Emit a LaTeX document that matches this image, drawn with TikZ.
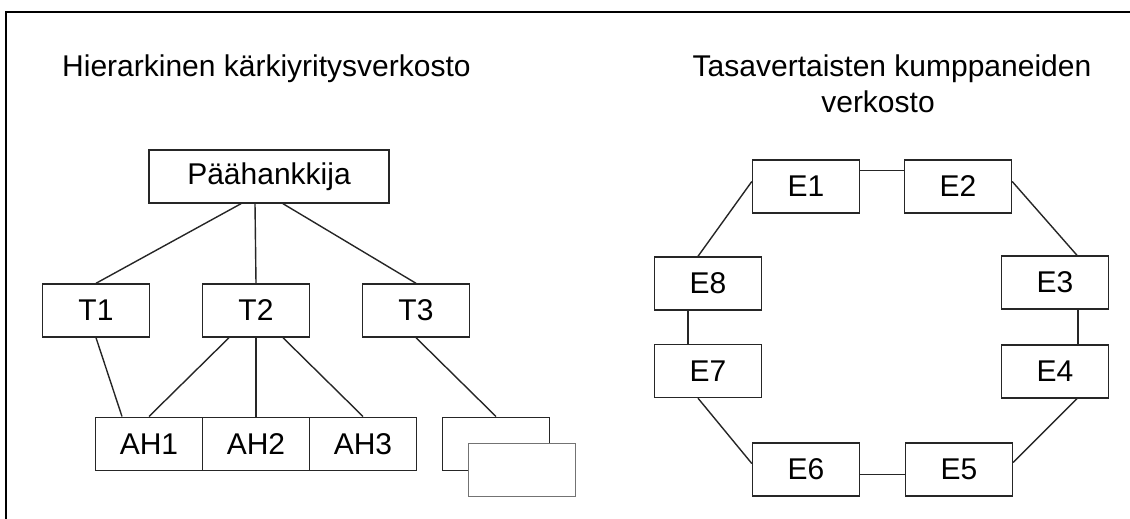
\documentclass[tikz,border=0pt]{standalone}
\usepackage{fontspec}
\setmainfont{Liberation Sans}
\usepackage{tikz}

\begin{document}
\begin{tikzpicture}[x=1pt, y=-1pt]
	\useasboundingbox (0,0) rectangle (1130,519);
	\draw[line width=1.6pt] (6,12) rectangle (1150,540);
	\fontsize{30}{36}\selectfont
	\tikzstyle{box}=[rectangle, draw=black!85, line width=1.4pt, minimum width=107pt, minimum height=53pt, inner sep=0pt, fill=white]
	\tikzstyle{link}=[draw=black!85, line width=1.4pt]
	% titles
	\node[anchor=base west, inner sep=0pt] (hier) at (62,77) {Hierarkinen kärkiyritysverkosto};
	\node[anchor=base, inner sep=0pt] (tasa) at (892,77) {Tasavertaisten kumppaneiden};
	\node[anchor=base, inner sep=0pt] (tasb) at (878,113) {verkosto};
	% hierarchy
	\node[box, minimum width=240pt] (pa) at (269,176.5) {Päähankkija};
	\foreach \i/\x in {1/96,2/256,3/416} {
	    \node[box] (t\i) at (\x,310.5) {T\i};
	}
	\foreach \i/\x in {1/149,2/256,3/363} {
	    \node[box] (ah\i) at (\x,443.7) {AH\i};
	}
	\node[box] (back) at (496,443.7) {};
	\node[box, draw=black!55] (front) at (522,470) {};
	\path ([xshift=-28pt]pa.south) edge[link] (t1.north);
	\path ([xshift=-14pt]pa.south) edge[link] (t2.north);
	\path ([xshift=14pt]pa.south) edge[link] (t3.north);
	\path (t1.south) edge[link] ([xshift=-27pt]ah1.north);
	\path ([xshift=-27pt]t2.south) edge[link] (ah1.north);
	\path (t2.south) edge[link] (ah2.north);
	\path ([xshift=27pt]t2.south) edge[link] (ah3.north);
	\path (t3.south) edge[link] (back.north);
	% ring
	\foreach \i/\x/\y in {1/806/186.5,2/958/186.5,3/1055/282.5,4/1055/371.5,5/959/469.5,6/806/469.5,7/708/371,8/708/283.5} {
	    \node[box] (e\i) at (\x,\y) {E\i};
	}
	\path ([yshift=16pt]e1.east) edge[link] ([yshift=16pt]e2.west);
	\path ([yshift=5pt]e2.east) edge[link] ([xshift=22pt]e3.north);
	\path ([xshift=23pt]e3.south) edge[link] ([xshift=23pt]e4.north);
	\path ([xshift=22pt]e4.south) edge[link] ([yshift=7pt]e5.east);
	\path ([yshift=-5pt]e5.west) edge[link] ([yshift=-5pt]e6.east);
	\path ([yshift=6pt]e6.west) edge[link] ([xshift=-10pt]e7.south);
	\path ([xshift=-20pt]e7.north) edge[link] ([xshift=-20pt]e8.south);
	\path ([xshift=-10pt]e8.north) edge[link] ([yshift=5pt]e1.west);
\end{tikzpicture}
\end{document}
